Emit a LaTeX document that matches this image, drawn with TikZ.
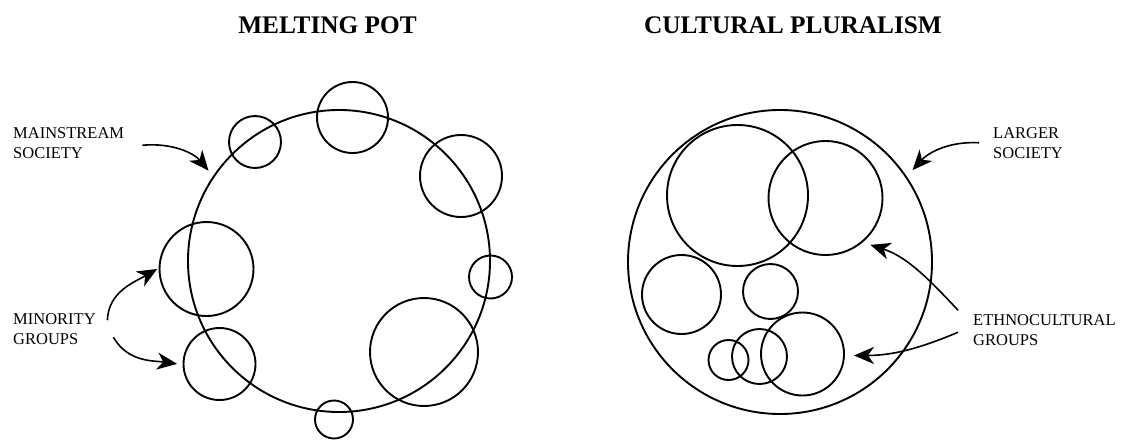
\documentclass[tikz,border=0pt]{standalone}
\usepackage{fontspec}
\setmainfont{Liberation Serif}
\usetikzlibrary{arrows.meta}
\tikzset{
  grp/.style={draw, circle, line width=1.9pt, inner sep=0pt},
  lbl/.style={anchor=north west, align=left, inner sep=0pt, font=\fontsize{16.5}{20}\selectfont},
  ttl/.style={anchor=base, inner sep=0pt, font=\fontsize{25.3}{30}\selectfont\bfseries},
  arr/.style={line width=1.6pt, -{Stealth[length=20pt,width=17pt,inset=6pt]}},
}
\begin{document}
\begin{tikzpicture}[x=1pt,y=1pt]
        \useasboundingbox (0,0) rectangle (1123,-439);
        % melting pot
        \node[ttl] (mptitle) at (327.5,-33) {MELTING POT};
        \node[grp, minimum size=302pt] (mp) at (339,-261) {};
        \node[grp, minimum size=52pt] (mpa) at (255,-142) {};
        \node[grp, minimum size=71pt] (mpb) at (352.5,-117.5) {};
        \node[grp, minimum size=82pt] (mpc) at (461,-176) {};
        \node[grp, minimum size=43pt] (mpd) at (490.5,-277) {};
        \node[grp, minimum size=108pt] (mpe) at (424,-352) {};
        \node[grp, minimum size=38pt] (mpf) at (334,-419.5) {};
        \node[grp, minimum size=72pt] (mpg) at (219.5,-364) {};
        \node[grp, minimum size=94pt] (mph) at (206.5,-269) {};
        \node[lbl] (mslabel) at (13,-127) {MAINSTREAM\\SOCIETY};
        \node[lbl] (mglabel) at (13,-313) {MINORITY\\GROUPS};
        \draw[arr, shorten >=7pt] ([shift={(18,-2.5)}]mslabel.east) to[out=5, in=130] (mp.146);
        \draw[arr, shorten >=1.5pt] ([shift={(11.5,8.5)}]mglabel.east) to[out=88, in=210] (mph.179);
        \draw[arr, shorten >=5.5pt] ([shift={(17.5,-8.5)}]mglabel.east) to[out=-60, in=172] (mpg.181);
        % cultural pluralism
        \node[ttl] (cptitle) at (793,-33) {CULTURAL PLURALISM};
        \node[grp, minimum size=304pt] (cp) at (780,-262) {};
        \node[grp, minimum size=141pt] (cpa) at (737.5,-195.5) {};
        \node[grp, minimum size=114pt] (cpb) at (825.5,-198) {};
        \node[grp, minimum size=79pt] (cpc) at (681.5,-294.5) {};
        \node[grp, minimum size=55pt] (cpd) at (770.5,-291.5) {};
        \node[grp, minimum size=40pt] (cpe) at (728.5,-360) {};
        \node[grp, minimum size=55pt] (cpf) at (759.5,-356.5) {};
        \node[grp, minimum size=83pt] (cpg) at (802.5,-354) {};
        \node[lbl] (lslabel) at (993,-127) {LARGER\\SOCIETY};
        \node[lbl] (eglabel) at (973,-314) {ETHNOCULTURAL\\GROUPS};
        \draw[arr, shorten >=8.5pt] ([shift={(-14,0)}]lslabel.west) to[out=177, in=48] (cp.34);
        \draw[arr, shorten >=8pt] ([shift={(-15,19.5)}]eglabel.west) to[out=133, in=-18] (cpb.-50);
        \draw[arr, shorten >=9pt] ([shift={(-15,-2.5)}]eglabel.west) to[out=203, in=0] (cpg.-2);
\end{tikzpicture}
\end{document}
